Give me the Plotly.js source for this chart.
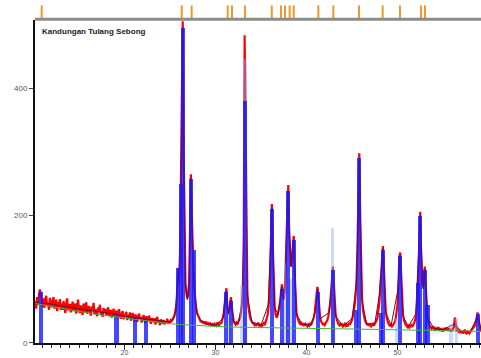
<!DOCTYPE html>
<html>
<head>
<meta charset="utf-8">
<script src="https://cdn.plot.ly/plotly-3.0.1.min.js"></script>
<style>
html,body{margin:0;padding:0;overflow:hidden;background:#fff;width:481px;height:358px;}
#chart{width:490px;height:358px;}
</style>
</head>
<body>
<div id="chart"></div>
<script>
// Observed intensity, 2-theta from 10.2 in steps of 0.1 degree
const obsStart = 10.2;
const obsStep = 0.1;
const observed = [
  66, 54, 72, 60, 76, 84, 78, 62, 57, 70,   // 10.2
  55, 68, 74, 58, 63, 52, 71, 60, 56, 66,   // 11.2
  72, 54, 60, 68, 50, 64, 57, 69, 52, 62,   // 12.2
  52, 66, 56, 47, 63, 70, 51, 58, 61, 48,   // 13.2
  59, 65, 50, 55, 62, 46, 57, 68, 53, 47,   // 14.2
  59, 52, 44, 62, 55, 49, 64, 46, 54, 58,   // 15.2
  49, 43, 57, 52, 63, 45, 53, 48, 42, 56,   // 16.2
  50, 60, 44, 50, 41, 55, 47, 53, 43, 49,   // 17.2
  56, 42, 47, 52, 40, 48, 54, 41, 46, 51,   // 18.2
  39, 47, 53, 43, 38, 46, 50, 37, 45, 42,   // 19.2
  49, 36, 44, 40, 48, 35, 43, 47, 39, 34,   // 20.2
  45, 38, 33, 42, 46, 37, 41, 32, 40, 44,   // 21.2
  36, 31, 42, 38, 34, 43, 35, 30, 39, 34,   // 22.2
  33, 39, 29, 36, 41, 32, 35, 28, 37, 33,   // 23.2
  31, 36, 29, 34, 32, 38, 30, 35, 32, 36,   // 24.2
  35, 37, 40, 44, 50, 60, 85, 118, 95, 140, // 25.2
  255, 430, 505, 300, 150, 95, 78, 70, 75, 95, // 26.2
  180, 265, 200, 140, 110, 80, 62, 52, 46, 42, // 27.2
  38, 36, 33, 35, 31, 34, 30, 32, 29, 33,   // 28.2
  30, 28, 32, 27, 31, 29, 26, 30, 28, 27,   // 29.2
  31, 29, 28, 32, 30, 34, 38, 45, 60, 80,   // 30.2
  86, 58, 48, 50, 62, 72, 55, 40, 34, 31,   // 31.2
  29, 32, 30, 33, 36, 40, 48, 60, 85, 150,  // 32.2
  483, 350, 140, 80, 58, 46, 40, 36, 33, 31, // 33.2
  30, 28, 31, 27, 29, 32, 28, 26, 30, 27,   // 34.2
  29, 31, 28, 33, 36, 42, 52, 70, 110, 180, // 35.2
  218, 150, 85, 58, 45, 40, 42, 48, 56, 66, // 36.2
  80, 92, 75, 68, 80, 110, 165, 225, 248, 170, // 37.2
  130, 120, 135, 155, 168, 110, 65, 48, 40, 35, // 38.2
  32, 30, 33, 29, 28, 31, 27, 30, 28, 26,   // 39.2
  29, 27, 30, 28, 32, 35, 40, 48, 62, 80,   // 40.2
  88, 75, 52, 40, 34, 31, 29, 30, 28, 31,   // 41.2
  33, 36, 42, 50, 62, 80, 105, 120, 95, 62, // 42.2
  45, 38, 33, 30, 28, 31, 27, 29, 26, 28,   // 43.2
  30, 27, 29, 26, 28, 31, 30, 33, 36, 42,   // 44.2
  50, 60, 75, 100, 150, 240, 298, 200, 110, 70, // 45.2
  52, 43, 37, 33, 30, 28, 31, 27, 29, 26,   // 46.2
  28, 30, 27, 29, 32, 35, 40, 48, 62, 85,   // 47.2
  110, 140, 152, 120, 75, 52, 40, 33, 30, 28, // 48.2
  27, 29, 26, 28, 30, 33, 38, 46, 60, 90,   // 49.2
  135, 142, 100, 62, 45, 36, 31, 28, 27, 25, // 50.2
  27, 24, 26, 28, 25, 27, 30, 34, 40, 52,   // 51.2
  72, 110, 180, 206, 140, 95, 88, 105, 120, 90, // 52.2
  60, 42, 33, 28, 25, 23, 26, 22, 24, 21,   // 53.2
  23, 20, 22, 25, 21, 19, 23, 20, 18, 22,   // 54.2
  21, 24, 20, 22, 19, 23, 20, 18, 21, 22,   // 55.2
  26, 40, 30, 20, 21, 18, 16, 20, 17, 19,   // 56.2
  15, 18, 21, 16, 14, 19, 17, 15, 18, 20,   // 57.2
  20, 22, 24, 27, 32, 40, 48, 38, 28, 22,   // 58.2
  19, 17, 20, 16, 18, 21, 17, 19, 16, 18    // 59.2
];

// Calculated profile
const calcX = [10.2, 11, 12, 13, 14, 15, 16, 17, 18, 19, 20, 21, 22, 23, 24, 25, 25.5, 25.8, 25.9, 26.0, 26.2, 26.4, 26.5, 26.7, 26.9, 27.1, 27.3, 27.5, 27.7, 28.0, 28.5, 29, 30, 30.8, 31.15, 31.4, 31.7, 32.0, 32.5, 33.0, 33.24, 33.5, 34, 35, 35.8, 36.2, 36.5, 36.9, 37.3, 37.6, 37.97, 38.3, 38.6, 38.9, 39.5, 40.5, 41.0, 41.2, 41.5, 42.5, 42.9, 43.2, 44, 45, 45.5, 45.8, 46.1, 46.6, 47.5, 48.0, 48.4, 48.7, 49.3, 50.0, 50.3, 50.6, 51.2, 52.0, 52.5, 52.8, 53.0, 53.3, 54, 55, 56.3, 57, 58, 58.8, 59.2, 60.1];
const calcY = [64, 63, 61, 58, 56, 53, 51, 49, 47, 45, 42, 40, 38, 36, 34, 33, 40, 80, 110, 95, 240, 495, 290, 90, 68, 90, 258, 135, 75, 44, 33, 30, 28, 38, 82, 45, 68, 33, 30, 70, 380, 75, 33, 28, 60, 212, 55, 45, 88, 78, 238, 120, 162, 45, 30, 28, 50, 85, 38, 48, 115, 42, 27, 38, 95, 290, 68, 30, 30, 75, 148, 48, 28, 80, 138, 42, 26, 45, 200, 85, 115, 40, 23, 21, 30, 18, 18, 42, 20, 18];

// Background
const bgX = [10.2, 12, 14, 16, 18, 20, 22, 24, 26, 28, 30, 32, 35, 40, 45, 50, 55, 60.2];
const bgY = [62, 57, 52, 47, 43, 39, 35, 32, 29, 27, 26, 25, 24, 23, 22, 21, 19, 18];

// Reference stick pattern
const stickPos = [10.82, 19.12, 21.15, 22.36, 25.9, 26.22, 26.38, 27.31, 27.62, 31.15, 31.70, 33.24, 36.21, 37.31, 37.97, 38.63, 41.26, 42.92, 45.4, 45.77, 48.15, 48.41, 50.27, 52.3, 52.47, 53.02, 53.3, 58.85];
const stickH   = [80, 42, 40, 38, 118, 250, 495, 258, 146, 80, 66, 380, 210, 85, 238, 162, 80, 115, 52, 290, 47, 146, 136, 94, 200, 115, 60, 45];
const weakPos = [31.5, 32.9, 33.24, 37.75, 38.3, 42.85, 49.9, 55.9, 56.5];
const weakH   = [45, 90, 445, 125, 100, 180, 40, 30, 39];

// Reflection markers (top strip)
const reflPos = [10.90, 26.29, 27.38, 31.34, 31.81, 33.24, 36.18, 37.20, 37.64, 38.15, 38.59, 41.30, 42.95, 45.77, 48.37, 50.27, 52.58, 53.02];

const obsX = observed.map((v, i) => +(obsStart + i * obsStep).toFixed(2));

const traces = [
  {x: obsX, y: observed, type: 'scatter', mode: 'lines',
   line: {color: 'rgb(255,0,0)', width: 2.2}, hoverinfo: 'skip'},
  {x: calcX, y: calcY, type: 'scatter', mode: 'lines',
   line: {color: 'rgb(110,10,60)', width: 1}},
  {x: weakPos, y: weakH, type: 'bar', width: 0.4, yaxis: 'y3',
   marker: {color: 'rgba(140,170,255,0.45)', line: {width: 0}}},
  {x: stickPos, y: stickH, type: 'bar', width: 0.45, yaxis: 'y3',
   marker: {color: 'rgba(25,25,255,0.8)', line: {width: 0}}},
  {x: bgX, y: bgY, type: 'scatter', mode: 'lines', yaxis: 'y3',
   line: {color: 'rgb(70,180,60)', width: 1}},
  {x: reflPos, y: reflPos.map(() => 0.5), type: 'scatter', mode: 'markers',
   yaxis: 'y2', cliponaxis: false,
   marker: {symbol: 'line-ns', size: 10, line: {color: 'rgb(245,150,40)', width: 2}}}
];

const layout = {
  width: 490, height: 358,
  margin: {l: 35, r: 0, t: 6, b: 15},
  paper_bgcolor: '#fff', plot_bgcolor: '#fff',
  showlegend: false, barmode: 'overlay', bargap: 0,
  font: {family: 'Liberation Sans, Arial, sans-serif', size: 8, color: '#444'},
  xaxis: {range: [10.165, 60.165], tickvals: [20, 30, 40, 50], ticktext: ['20', '30', '40', '50'],
    ticks: 'outside', ticklen: 5, tickcolor: '#222', tickwidth: 1,
    minor: {dtick: 1, ticks: 'outside', ticklen: 3, tickcolor: '#222'},
    showline: true, linecolor: '#111', linewidth: 2, showgrid: false, zeroline: false,
    ticklabelstandoff: -3,
    tickfont: {size: 7, color: '#555'}},
  yaxis: {domain: [0, 0.9585], range: [0, 507], tickvals: [0, 200, 400],
    ticks: 'outside', ticklen: 4, tickcolor: '#444',
    showline: true, linecolor: '#111', linewidth: 2, showgrid: false, zeroline: false,
    tickfont: {size: 8, color: '#555'}},
  yaxis2: {domain: [0.962, 1], range: [0, 1], visible: false, anchor: 'x'},
  yaxis3: {overlaying: 'y', range: [0, 507], visible: false, anchor: 'x'},
  shapes: [
    {type: 'line', xref: 'paper', yref: 'paper', x0: 0, x1: 1, y0: 0.9605, y1: 0.9605,
     line: {color: '#8c8c8c', width: 3}}
  ],
  annotations: [
    {text: '<b>Kandungan Tulang Sebong</b>', xref: 'paper', yref: 'paper',
     x: 0.012, y: 0.925, xanchor: 'left', yanchor: 'middle', showarrow: false,
     font: {size: 8, color: '#222'}}
  ]
};

Plotly.newPlot('chart', traces, layout, {staticPlot: true, displayModeBar: false});
</script>
</body>
</html>
